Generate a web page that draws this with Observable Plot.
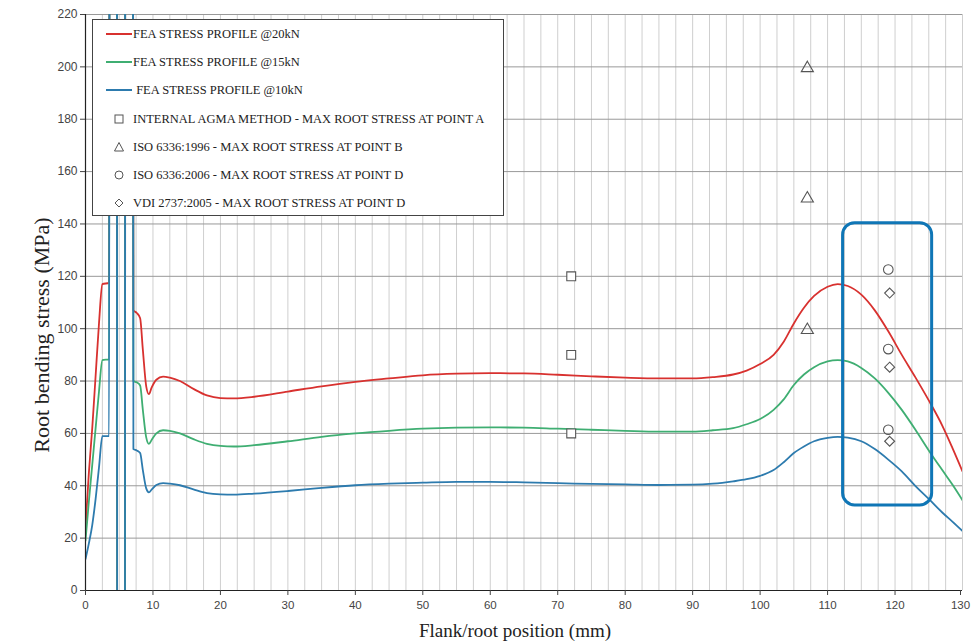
<!DOCTYPE html>
<html>
<head>
<meta charset="utf-8">
<script src="https://cdn.jsdelivr.net/npm/d3@7"></script>
<script src="https://cdn.jsdelivr.net/npm/@observablehq/plot@0.6"></script>
<style>
  html, body { margin: 0; padding: 0; background: #fff; }
  #wrap { position: relative; width: 971px; height: 643px; overflow: hidden; }
  #legend { position: absolute; left: 92px; top: 19px; width: 412px; height: 197px;
    border: 1px solid #444; background: #fff; box-sizing: border-box;
    font-family: "Liberation Serif", "Times New Roman", serif; font-size: 12.5px; color: #222; }
  .row { position: absolute; left: 0; height: 16px; }
  .row svg { position: absolute; left: 0; top: 0; }
  .row span { position: absolute; top: 0; line-height: 16px; white-space: nowrap; }
  .axlabel { position: absolute; font-family: "Liberation Serif", "Times New Roman", serif; color: #222; white-space: nowrap; }
</style>
</head>
<body>
<div id="wrap"></div>
<script>
// ---- data ----
const xTicks = [0,10,20,30,40,50,60,70,80,90,100,110,120,130];
const yTicks = [0,20,40,60,80,100,120,140,160,180,200,220];

// FEA stress profiles [position mm, stress MPa]; spike region goes off-chart
const fea20kN = [[0,24],[0.5,45],[1,62],[1.5,82],[2,102],[2.5,117],[3.5,117.5],[3.6,400],[4.65,400],[4.7,-100],[5.85,-100],[5.9,400],[7.0,400],[7.1,107],[7.6,106],[8.1,104],[8.5,92],[9.0,78],[9.4,75],[9.8,77.5],[10.5,80.5],[11.5,81.7],[12.5,81.3],[14,80],[16,77],[18,74.5],[20,73.5],[22,73.4],[25,74],[30,76],[35,78],[40,79.7],[45,81],[50,82.2],[55,82.8],[60,83],[65,82.9],[70,82.4],[75,81.8],[80,81.3],[85,81],[90,81],[93,81.5],[96,82.5],[98,84],[100,86.5],[102,90],[103.5,95],[105,102],[106.5,108],[108,112.5],[110,116],[111.5,117],[113,116.3],[115,113],[117,107],[119,99],[121,90],[123,81.5],[125,72.6],[127,63],[128.5,54.5],[130,45.5]];
const fea15kN = [[0,19],[0.5,34],[1,48],[1.5,62],[2,76],[2.5,88],[3.5,88.3],[3.6,400],[4.65,400],[4.7,-100],[5.85,-100],[5.9,400],[7.0,400],[7.1,80],[7.6,79.5],[8.1,78.3],[8.5,69],[9.0,58.5],[9.4,56],[9.8,57.5],[10.5,60],[11.5,61.2],[12.5,61],[14,60],[16,57.8],[18,56],[20,55.2],[22,55],[25,55.5],[30,57],[35,58.7],[40,60],[45,61],[50,61.8],[55,62.2],[60,62.3],[65,62.2],[70,61.8],[75,61.4],[80,61],[85,60.7],[90,60.7],[93,61.2],[96,62],[98,63.5],[100,65.5],[102,69],[103.5,73],[105,78.5],[106.5,82.5],[108,85.3],[110,87.5],[111.5,88],[113,87.5],[115,85],[117,81],[119,75.5],[121,69],[123,61.5],[125,53.5],[127,46],[128.5,40.5],[130,34.5]];
const fea10kN = [[0,12],[0.5,18],[1,25],[1.5,35],[2,47],[2.5,59],[3.5,59],[3.6,400],[4.65,400],[4.7,-100],[5.85,-100],[5.9,400],[7.0,400],[7.1,54],[7.6,53.5],[8.1,52.5],[8.5,46],[9.0,39],[9.4,37.5],[9.8,38.5],[10.5,40.3],[11.5,41],[12.5,40.8],[14,40.2],[16,38.6],[18,37.2],[20,36.7],[22,36.6],[25,37],[30,38],[35,39.2],[40,40.2],[45,40.8],[50,41.2],[55,41.5],[60,41.5],[65,41.3],[70,41],[75,40.7],[80,40.5],[85,40.3],[90,40.4],[93,40.8],[96,41.7],[98,42.5],[100,43.8],[102,46],[103.5,49],[105,52.5],[106.5,55],[108,57],[110,58.3],[111.5,58.7],[113,58.4],[115,57],[117,54],[119,50],[121,45.5],[123,40],[125,35],[127,29.8],[128.5,26.3],[130,22.7]];

// Calculated max root stresses [position, stress]
const agmaPointA = [[72,120],[72,90],[72,60]];
const iso1996PointB = [[107,199.5],[107,149.7],[107,99.5]];
const iso2006PointD = [[119,122.6],[119,92.2],[119,61.4]];
const vdi2737PointD = [[119.2,113.6],[119.2,85.3],[119.2,57]];

// highlight box region [x1, x2, y1, y2]
const highlight = [[112.3,125.5,32.5,140.3]];

const gridXValues = d3.range(0, 130.01, 2.5);
const gridYValues = yTicks.slice(1);

const C20 = "#d8312f", C15 = "#3fae72", C10 = "#2d7bae", CBOX = "#0f76b6", CMK = "#555";

const chart = Plot.plot({
  width: 971, height: 643,
  marginLeft: 85, marginRight: 9, marginTop: 14, marginBottom: 53,
  style: { background: "white", fontFamily: "'Liberation Sans', Arial, sans-serif", fontSize: "12px", color: "#444" },
  x: { domain: [0,130] },
  y: { domain: [0,220] },
  marks: [
    Plot.gridX(gridXValues, { stroke: "#cfcfcf", strokeOpacity: 1 }),
    Plot.gridY(gridYValues, { stroke: "#999", strokeOpacity: 1 }),
    Plot.line(fea20kN, { x: d => d[0], y: d => d[1], stroke: C20, strokeWidth: 1.8, clip: true, curve: "monotone-x" }),
    Plot.line(fea15kN, { x: d => d[0], y: d => d[1], stroke: C15, strokeWidth: 1.8, clip: true, curve: "monotone-x" }),
    Plot.line(fea10kN, { x: d => d[0], y: d => d[1], stroke: C10, strokeWidth: 1.8, clip: true, curve: "monotone-x" }),
    Plot.dot(agmaPointA, { x: d => d[0], y: d => d[1], symbol: "square", r: 5, stroke: CMK, fill: "white", strokeWidth: 1.1 }),
    Plot.dot(iso1996PointB, { x: d => d[0], y: d => d[1], symbol: "triangle", r: 4.5, stroke: CMK, fill: "none", strokeWidth: 1.1 }),
    Plot.dot(iso2006PointD, { x: d => d[0], y: d => d[1], symbol: "circle", r: 4.8, stroke: CMK, fill: "none", strokeWidth: 1.1 }),
    Plot.dot(vdi2737PointD, { x: d => d[0], y: d => d[1], symbol: "diamond2", r: 4.5, stroke: CMK, fill: "none", strokeWidth: 1.1 }),
    Plot.rect(highlight, { x1: d => d[0], x2: d => d[1], y1: d => d[2], y2: d => d[3], rx: 12, fill: "none", stroke: CBOX, strokeWidth: 3 }),
    Plot.ruleX([0], { stroke: "#222", strokeWidth: 1.2 }),
    Plot.ruleY([0], { stroke: "#222", strokeWidth: 1.2 }),
    Plot.axisX(xTicks.slice(0, -1), { tickSize: 5, tickPadding: 5, label: null, fill: "#444", fontSize: 11.5 }),
    Plot.axisX(xTicks.slice(-1), { tickSize: 5, tickPadding: 5, label: null, fill: "#444", fontSize: 11.5, dx: -2 }),
    Plot.axisY(yTicks, { tickSize: 5, tickPadding: 3, label: null, fill: "#444" })
  ]
});

const wrap = document.getElementById("wrap");
wrap.appendChild(chart);

// axis labels
const yl = document.createElement("div");
yl.className = "axlabel";
yl.style.fontSize = "22px";
yl.textContent = "Root bending stress (MPa)";
yl.style.left = "42px"; yl.style.top = "335px";
yl.style.transform = "translate(-50%,-50%) rotate(-90deg)";
wrap.appendChild(yl);

const xl = document.createElement("div");
xl.className = "axlabel";
xl.style.fontSize = "19px";
xl.textContent = "Flank/root position (mm)";
xl.style.left = "515px"; xl.style.top = "631px";
xl.style.transform = "translate(-50%,-50%)";
wrap.appendChild(xl);

// legend
const legendItems = [
  { type: "line", color: C20, text: "FEA STRESS PROFILE @20kN" },
  { type: "line", color: C15, text: "FEA STRESS PROFILE @15kN" },
  { type: "line", color: C10, text: "\u00a0FEA STRESS PROFILE @10kN" },
  { type: "square", text: "INTERNAL AGMA METHOD - MAX ROOT STRESS AT POINT A" },
  { type: "triangle", text: "ISO 6336:1996 - MAX ROOT STRESS AT POINT B" },
  { type: "circle", text: "ISO 6336:2006 - MAX ROOT STRESS AT POINT D" },
  { type: "diamond", text: "VDI 2737:2005 - MAX ROOT STRESS AT POINT D" }
];
const legend = document.createElement("div");
legend.id = "legend";
wrap.appendChild(legend);
legendItems.forEach((it, i) => {
  const row = document.createElement("div");
  row.className = "row";
  row.style.top = (6 + i * 28.2) + "px";
  row.style.width = "405px";
  const cx = 26;
  let sym = "";
  if (it.type === "line") sym = `<line x1="13" x2="39" y1="8" y2="8" stroke="${it.color}" stroke-width="2"/>`;
  else if (it.type === "square") sym = `<rect x="${cx-4}" y="4" width="8" height="8" fill="none" stroke="${CMK}" stroke-width="1"/>`;
  else if (it.type === "triangle") sym = `<path d="M${cx},3.5 L${cx+4.5},12 L${cx-4.5},12 Z" fill="none" stroke="${CMK}" stroke-width="1"/>`;
  else if (it.type === "circle") sym = `<circle cx="${cx}" cy="8" r="4" fill="none" stroke="${CMK}" stroke-width="1"/>`;
  else sym = `<path d="M${cx},4 L${cx+4},8 L${cx},12 L${cx-4},8 Z" fill="none" stroke="${CMK}" stroke-width="1"/>`;
  row.innerHTML = `<svg width="44" height="16">${sym}</svg><span style="left:40px">${it.text}</span>`;
  legend.appendChild(row);
});
</script>
</body>
</html>
